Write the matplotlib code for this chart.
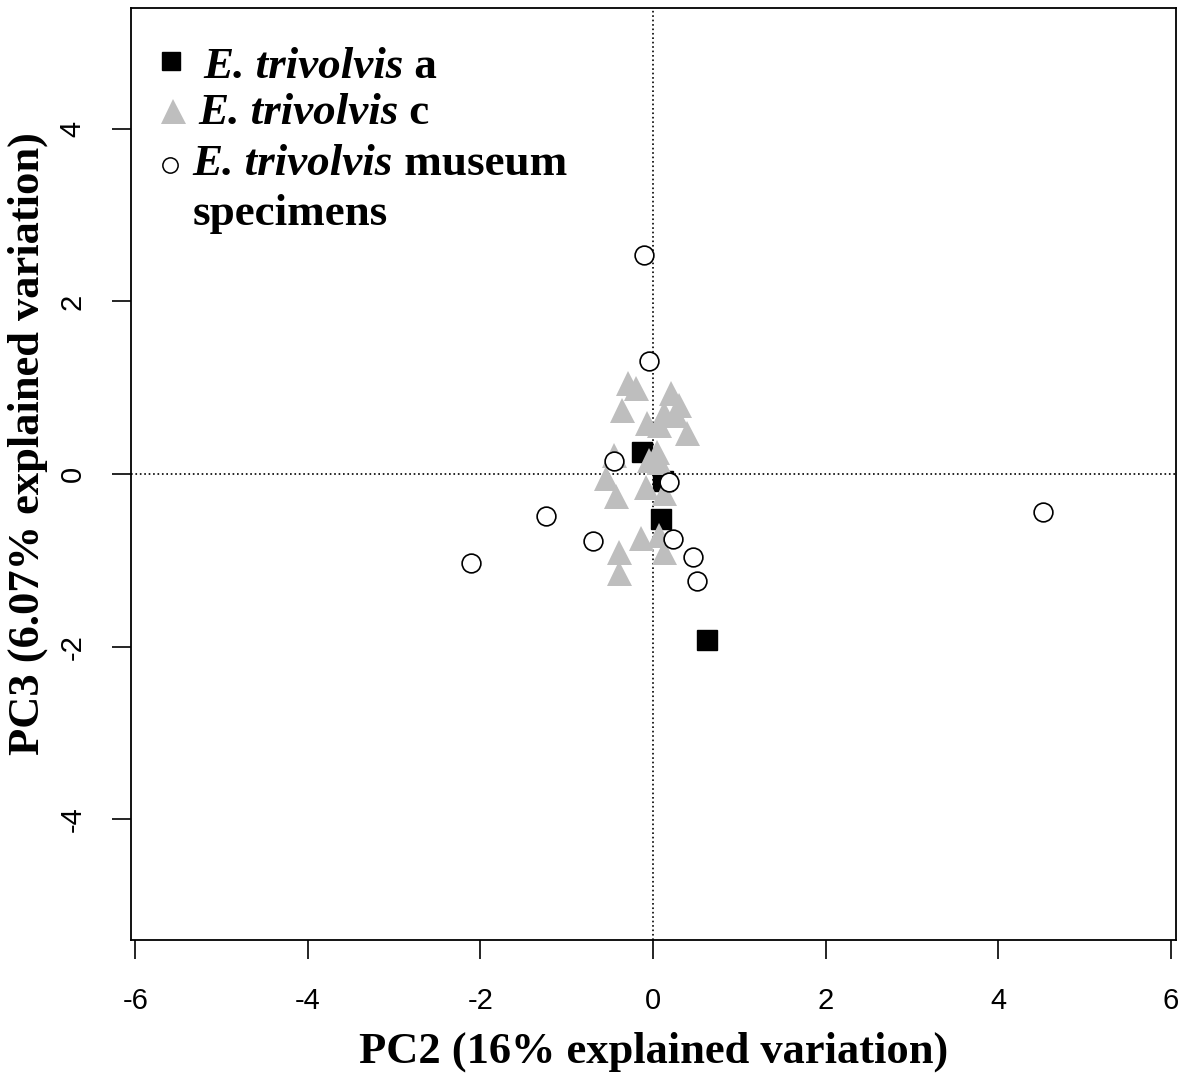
import numpy as np
import matplotlib.pyplot as plt
from matplotlib.transforms import offset_copy

# ---------------------------
# data (PC2, PC3)
# ---------------------------
a_pc2 = [-0.13, 0.12, 0.09, 0.62]
a_pc3 = [0.25, -0.08, -0.52, -1.92]

c_pc2 = [-0.29, -0.20, -0.36, 0.21, 0.30, 0.13, -0.07, 0.07, 0.39, 0.26,
         -0.05, -0.45, -0.55, -0.43, -0.08, 0.07, 0.13, -0.14, -0.39, -0.39,
         0.13, 0.07, 0.05]
c_pc3 = [1.05, 1.00, 0.74, 0.94, 0.80, 0.71, 0.59, 0.57, 0.48, 0.68,
         0.16, 0.22, -0.05, -0.25, -0.15, 0.14, -0.22, -0.74, -0.90, -1.15,
         -0.90, -0.71, 0.25]

mus_pc2 = [-0.10, -0.05, -0.45, 0.19, -1.24, -0.70, -2.11, 0.23, 0.46, 0.51, 4.52]
mus_pc3 = [2.54, 1.31, 0.15, -0.09, -0.49, -0.78, -1.03, -0.75, -0.96, -1.24, -0.44]

ticks = [-6, -4, -2, 0, 2, 4, 6]
yticks = [-4, -2, 0, 2, 4]

# ---------------------------
# figure
# ---------------------------
fig = plt.figure(figsize=(11.85, 10.78), dpi=100)
ax = fig.add_axes([0.1105, 0.128, 0.882, 0.8646])

ax.axhline(0, color='black', ls=':', lw=1.2, zorder=1)
ax.axvline(0, color='black', ls=':', lw=1.2, zorder=1)

ax.plot(a_pc2, a_pc3, 's', color='black', ms=14.5, zorder=2)
ax.plot(c_pc2, c_pc3, '^', color='#bebebe', ms=18, mew=0, zorder=3)
ax.plot(mus_pc2, mus_pc3, 'o', mfc='white', mec='black', mew=1.2, ms=13.5, zorder=4)

ax.set_xlim(-6.05, 6.06)
ax.set_ylim(-5.4, 5.4)
ax.set_xticks(ticks)
ax.set_xticklabels([str(t) for t in ticks])
ax.set_yticks(yticks)
ax.set_yticklabels([str(t) for t in yticks], rotation=90, va='center')
ax.tick_params(length=14, width=1.2, labelsize=21)
ax.tick_params(axis='x', pad=20)
ax.tick_params(axis='y', pad=18)
for lab in ax.get_xticklabels() + ax.get_yticklabels():
    lab.set_family('Liberation Sans')
for sp in ax.spines.values():
    sp.set_linewidth(1.3)

ax.set_xlabel('PC2 (16% explained variation)', family='Liberation Serif',
              weight='bold', fontsize=32, labelpad=12)
ax.set_ylabel('PC3 (6.07% explained variation)', family='Liberation Serif',
              weight='bold', fontsize=32, labelpad=6)
ax.yaxis.set_label_coords(-0.079, 0.533)

# ---------------------------
# legend (drawn by hand)
# ---------------------------
tr = ax.transAxes
ax.plot([0.038], [0.943], 's', color='black', ms=13, transform=tr, clip_on=False)
ax.plot([0.040], [0.890], '^', color='#bebebe', mew=0, ms=18, transform=tr, clip_on=False)
ax.plot([0.037], [0.832], 'o', mfc='white', mec='black', mew=1.1, ms=11,
        transform=tr, clip_on=False)

lab_kw = dict(family='Liberation Serif', weight='bold', fontsize=32.5,
              va='baseline', ha='left')
renderer = fig.canvas.get_renderer()


def species_label(x, y, rest):
    t = ax.text(x, y, 'E. trivolvis', style='italic', transform=tr, **lab_kw)
    w = t.get_window_extent(renderer).width
    ax.text(x, y, rest, transform=offset_copy(tr, fig=fig, x=w, units='dots'),
            **lab_kw)


species_label(0.069, 0.925, ' a')
species_label(0.064, 0.875, ' c')
species_label(0.059, 0.821, ' museum')
ax.text(0.059, 0.767, 'specimens', transform=tr, **lab_kw)

fig.savefig('out.png', dpi=100)
